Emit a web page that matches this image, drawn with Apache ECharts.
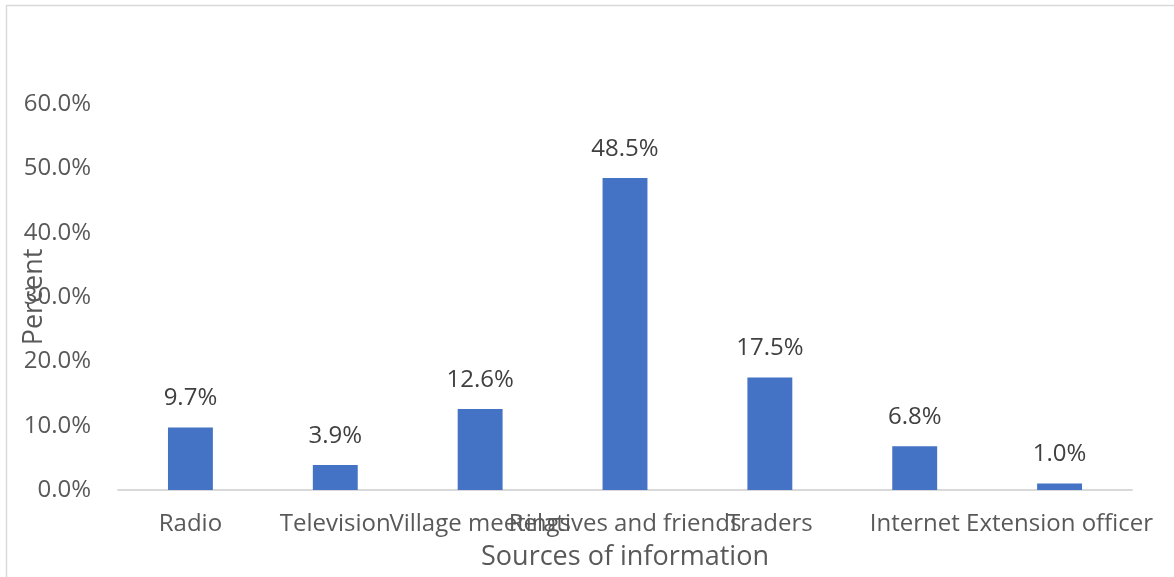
<!DOCTYPE html>
<html>
<head>
<meta charset="utf-8">
<script src="https://cdn.jsdelivr.net/npm/echarts@6/dist/echarts.min.js"></script>
<style>
  html, body { margin: 0; padding: 0; background: #fff; }
  #chart { width: 1174px; height: 577px; }
</style>
</head>
<body>
<div id="chart"></div>
<script>
// Veri
const categories = ['Radio', 'Television', 'Village meetings', 'Relatives and friends', 'Traders', 'Internet', 'Extension officer'];
const percents   = [9.7, 3.9, 12.6, 48.5, 17.5, 6.8, 1.0];
const yTicks     = [0, 10, 20, 30, 40, 50, 60];

const FONT = '"Open Sans", "Noto Sans", sans-serif';

const chart = echarts.init(document.getElementById('chart'), null, { renderer: 'canvas' });

chart.setOption({
  backgroundColor: '#fff',
  animation: false,
  textStyle: { fontFamily: FONT },
  graphic: [{
    type: 'rect',
    shape: { x: 6.5, y: 5.5, width: 1180, height: 600 },
    style: { fill: 'none', stroke: '#d9d9d9', lineWidth: 1.5 },
    silent: true
  }],
  grid: { left: 118, right: 42, top: 104, bottom: 87, containLabel: false, outerBoundsMode: 'none' },
  xAxis: {
    type: 'category',
    data: categories,
    name: 'Sources of information',
    nameLocation: 'middle',
    nameGap: 54,
    nameMoveOverlap: false,
    nameTextStyle: { color: '#595959', fontSize: 27, fontFamily: FONT },
    axisLine: { lineStyle: { color: '#d9d9d9', width: 2 } },
    axisTick: { show: false },
    axisLabel: {
      interval: 0,
      color: '#595959',
      fontSize: 24,
      fontFamily: FONT,
      margin: 22,
      hideOverlap: false
    }
  },
  yAxis: {
    type: 'value',
    min: yTicks[0],
    max: yTicks[yTicks.length - 1],
    interval: 10,
    name: 'Percent',
    nameLocation: 'middle',
    nameGap: 70,
    nameMoveOverlap: false,
    nameTextStyle: { color: '#595959', fontSize: 27, fontFamily: FONT },
    axisLine: { show: false },
    axisTick: { show: false },
    splitLine: { show: false },
    axisLabel: {
      color: '#595959',
      fontSize: 24,
      fontFamily: FONT,
      margin: 27,
      formatter: v => v.toFixed(1) + '%'
    }
  },
  series: [{
    type: 'bar',
    data: percents,
    barWidth: '31%',
    itemStyle: { color: '#4472c4' },
    label: {
      show: true,
      position: 'top',
      distance: 17,
      color: '#404040',
      fontSize: 24,
      fontFamily: FONT,
      formatter: p => p.value.toFixed(1) + '%'
    }
  }]
});
</script>
</body>
</html>
